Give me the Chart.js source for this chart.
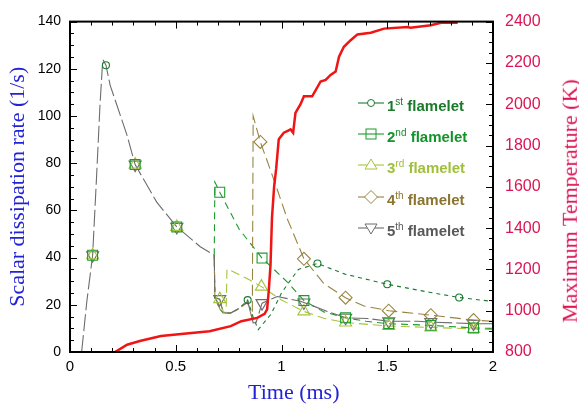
<!DOCTYPE html>
<html>
<head>
<meta charset="utf-8">
<script src="https://cdn.jsdelivr.net/npm/chart.js@4.4.1/dist/chart.umd.min.js"></script>
<style>
  body { margin: 0; background: #fff; }
  #wrap { position: relative; width: 579px; height: 405px; }
  .ttl { position: absolute; font-family: 'Liberation Serif', serif; font-size: 22px; white-space: nowrap; }
  .leg { position: absolute; left: 358px; height: 20px; font-family: 'Liberation Sans', Arial, sans-serif;
         font-size: 15px; font-weight: bold; white-space: nowrap; }
  .leg svg { position: absolute; left: 0; top: 2px; }
  .leg span { position: absolute; left: 29px; top: 0; line-height: 20px; }
  .leg sup { font-size: 10px; line-height: 0; vertical-align: 6px; font-weight: normal; }
</style>
</head>
<body>
<div id="wrap">
  <canvas id="chart" width="579" height="405"></canvas>
  <div class="ttl" style="left:248px; top:379px; color:#2323d6;">Time (ms)</div>
  <div class="ttl" id="rtitle" style="color:#dc1454;">Maximum Temperature (K)</div>
  <div id="legend"></div>
</div>
<script>
// shared rise and first decay (all flamelets)
const tCommon = [0.055, 0.079, 0.107, 0.126, 0.142, 0.155, 0.17, 0.19, 0.269, 0.308, 0.41, 0.505, 0.616, 0.682];
const sCommon = [0, 21, 41, 75, 105, 124, 121.5, 113, 92, 79.4, 63.5, 53, 44.6, 41];

// 1st flamelet
const t1 = [0.685, 0.71, 0.725, 0.76, 0.8, 0.84, 0.865, 0.89, 0.95, 1.0, 1.035, 1.08, 1.17, 1.3, 1.5, 1.7, 1.84, 2.0];
const s1 = [23, 18, 16.5, 16.5, 18.5, 22, 15, 9.5, 16, 25, 29.5, 35, 37.5, 33, 28.7, 25.3, 23.1, 21.4];
const m1t = [0.17, 0.84, 1.17, 1.5, 1.84];
const m1s = [121.5, 22, 37.5, 28.7, 23.1];

// 2nd flamelet
const t2 = [0.685, 0.708, 0.8, 0.908, 1.035, 1.106, 1.2, 1.303, 1.4, 1.507, 1.706, 1.908, 2.0];
const s2 = [72, 67.7, 52, 39.8, 29, 21.8, 17, 14.5, 13, 12, 11.3, 10.2, 10];
const m2t = [0.107, 0.308, 0.505, 0.708, 0.908, 1.106, 1.303, 1.507, 1.706, 1.908];
const m2s = [41, 79.4, 53, 67.7, 39.8, 21.8, 14.5, 12, 11.3, 10.2];

// 3rd flamelet
const t3 = [0.685, 0.708, 0.725, 0.738, 0.742, 0.76, 0.85, 0.905, 1.0, 1.106, 1.2, 1.303, 1.507, 1.706, 1.908, 2.0];
const s3 = [23, 22.4, 17, 16.5, 35, 34.5, 30.5, 27.7, 22, 17.2, 14.3, 12.5, 11, 10.4, 9.8, 9.5];
const m3t = [0.107, 0.308, 0.505, 0.708, 0.905, 1.106, 1.303, 1.507, 1.706, 1.908];
const m3s = [41, 79.4, 53, 22.4, 27.7, 17.2, 12.5, 11, 10.4, 9.8];

// 4th flamelet
const t4 = [0.685, 0.71, 0.725, 0.76, 0.8, 0.84, 0.862, 0.866, 0.9, 0.964, 1.027, 1.106, 1.2, 1.303, 1.39, 1.507, 1.706, 1.908, 2.0];
const s4 = [23, 18, 16.5, 16.5, 18.5, 21, 14, 100, 89, 73, 56.5, 39.5, 29, 23, 19.5, 17.5, 15.6, 13.5, 13];
const m4t = [0.9, 1.106, 1.303, 1.507, 1.706, 1.908];
const m4s = [89, 39.5, 23, 17.5, 15.6, 13.5];

// 5th flamelet
const t5 = [0.685, 0.708, 0.725, 0.76, 0.8, 0.84, 0.862, 0.866, 0.88, 0.908, 0.98, 1.09, 1.106, 1.217, 1.303, 1.406, 1.507, 1.643, 1.706, 1.908, 2.0];
const s5 = [23, 22.4, 16.5, 16.5, 18.5, 21.5, 14, 12.3, 12.5, 20.7, 23.5, 21.5, 21, 17.2, 14.5, 14.2, 13, 13, 12.7, 12, 12];
const m5t = [0.107, 0.308, 0.505, 0.708, 0.908, 1.106, 1.303, 1.507, 1.706, 1.908];
const m5s = [41, 79.4, 53, 22.4, 20.7, 21, 14.5, 13, 12.7, 12];

// maximum temperature
const tTemp = [0.213, 0.27, 0.33, 0.43, 0.55, 0.66, 0.76, 0.81, 0.885, 0.92, 0.932, 0.94, 0.948, 0.955, 0.965, 0.975, 0.987, 1.011, 1.027,
  1.043, 1.055, 1.066, 1.09, 1.106, 1.145, 1.185, 1.209, 1.232, 1.256, 1.272, 1.295, 1.327, 1.359, 1.422, 1.485, 1.596, 1.61, 1.706, 1.754, 1.833];
const maxTemp = [800, 835, 853, 877, 890, 901, 925, 949, 965, 985, 1006, 1100, 1220, 1450, 1600, 1690, 1830, 1862, 1870,
  1878, 1862, 1958, 2000, 2038, 2038, 2110, 2118, 2142, 2158, 2230, 2278, 2310, 2338, 2346, 2366, 2374, 2370, 2382, 2394, 2394];

const legendLabels = [['1', 'st'], ['2', 'nd'], ['3', 'rd'], ['4', 'th'], ['5', 'th']];

const colors = ['#1c7a30', '#1c9a2c', '#a4c440', '#988440', '#6c6c6c'];
const textColors = ['#1a7a2a', '#12942a', '#a0c03c', '#8a7430', '#585858'];
const dashes = [[4, 4], [7, 5], [9, 5], [11, 5], [17, 4]];
const styles = [
  { pointStyle: 'circle', radius: 3.5, rotation: 0 },
  { pointStyle: 'rect', radius: 7, rotation: 0 },
  { pointStyle: 'triangle', radius: 7, rotation: 0 },
  { pointStyle: 'rectRot', radius: 6.5, rotation: 0 },
  { pointStyle: 'triangle', radius: 7, rotation: 180 }
];

const pts = (xs, ys) => xs.map((x, i) => ({ x, y: ys[i] }));
const lines = [[t1, s1], [t2, s2], [t3, s3], [t4, s4], [t5, s5]];
const marks = [[m1t, m1s], [m2t, m2s], [m3t, m3s], [m4t, m4s], [m5t, m5s]];
const commonEnd = tCommon[tCommon.length - 1];

const datasets = [{
  data: pts(tTemp, maxTemp), yAxisID: 'y1', showLine: true, borderColor: '#f01414',
  borderWidth: 2.5, pointRadius: 0, order: 0
}];
lines.forEach(([t, s], i) => {
  datasets.push({
    data: pts(tCommon.concat(t), sCommon.concat(s)), yAxisID: 'y', showLine: true,
    borderColor: colors[i], borderWidth: 1.1, borderDash: dashes[i], pointRadius: 0,
    order: 7 - i,
    // the shared branch is shown by the 5th line only
    segment: i < 4 ? { borderColor: c => c.p1.parsed.x <= commonEnd ? 'rgba(0,0,0,0)' : undefined } : undefined
  });
});
marks.forEach(([t, s], i) => {
  datasets.push({
    data: pts(t, s), yAxisID: 'y', showLine: false,
    pointStyle: styles[i].pointStyle, pointRadius: styles[i].radius, pointRotation: styles[i].rotation,
    pointBorderColor: colors[i], pointBackgroundColor: 'rgba(0,0,0,0)', pointBorderWidth: 1.1, order: 1
  });
});

// frame with inward ticks
const frameTicks = {
  id: 'frameTicks',
  afterDraw(chart) {
    const { ctx, chartArea: a, scales } = chart;
    ctx.save();
    ctx.strokeStyle = '#000';
    ctx.lineWidth = 1;
    const seg = (x1, y1, x2, y2) => { ctx.beginPath(); ctx.moveTo(x1, y1); ctx.lineTo(x2, y2); ctx.stroke(); };
    for (let i = 0; i <= 20; i++) {
      const x = Math.round(scales.x.getPixelForValue(i / 10)) + 0.5, len = i % 5 === 0 ? 7 : 4;
      seg(x, a.bottom, x, a.bottom - len);
      seg(x, a.top, x, a.top + len);
    }
    for (let v = 0; v <= 140; v += 5) {
      const y = Math.round(scales.y.getPixelForValue(v)) + 0.5;
      seg(a.left, y, a.left + (v % 20 === 0 ? 7 : 4), y);
    }
    for (let v = 800; v <= 2400; v += 50) {
      const y = Math.round(scales.y1.getPixelForValue(v)) + 0.5;
      seg(a.right, y, a.right - (v % 200 === 0 ? 7 : 4), y);
    }
    ctx.lineWidth = 2;
    ctx.strokeRect(a.left, a.top, a.right - a.left, a.bottom - a.top);
    ctx.restore();
  }
};

new Chart(document.getElementById('chart'), {
  type: 'scatter',
  data: { datasets },
  options: {
    responsive: false,
    animation: false,
    layout: { padding: { top: 18, left: 0, right: 0, bottom: 0 } },
    plugins: { legend: { display: false }, tooltip: { enabled: false } },
    scales: {
      x: {
        type: 'linear', min: 0, max: 2,
        grid: { display: false, drawTicks: false }, border: { display: false },
        ticks: { stepSize: 0.5, padding: 6, color: '#000', font: { family: 'Liberation Sans', size: 15 },
                 callback: v => String(v) },
        afterFit: s => { s.height = 53; }
      },
      y: {
        position: 'left', min: 0, max: 140,
        grid: { display: false, drawTicks: false }, border: { display: false },
        ticks: { stepSize: 20, padding: 9, color: '#000', font: { family: 'Liberation Sans', size: 14 },
                 callback: v => String(v) },
        title: { display: true, text: 'Scalar dissipation rate (1/s)', color: '#2323d6',
                 font: { family: 'Liberation Serif', size: 22, lineHeight: 1 }, padding: { top: 7, bottom: 0 } },
        afterFit: s => { s.width = 70; }
      },
      y1: {
        position: 'right', min: 800, max: 2400,
        grid: { display: false, drawTicks: false }, border: { display: false },
        ticks: { stepSize: 200, padding: 12, color: '#dc1454', font: { family: 'Liberation Sans', size: 16 },
                 callback: v => String(v) },
        afterFit: s => { s.width = 86; }
      }
    }
  },
  plugins: [frameTicks]
});

// right axis title, reading bottom to top
const rt = document.getElementById('rtitle');
rt.style.left = (570 - rt.offsetWidth / 2) + 'px';
rt.style.top = (201 - rt.offsetHeight / 2) + 'px';
rt.style.transform = 'rotate(-90deg)';

// legend rows
const legend = document.getElementById('legend');
const rowY = [103, 134, 165, 197, 228];
const markSvg = i => {
  const c = colors[i];
  switch (i) {
    case 0: return `<circle cx="13" cy="8" r="3.5" fill="#fff" stroke="${c}"/>`;
    case 1: return `<rect x="8" y="3" width="10" height="10" fill="none" stroke="${c}"/>`;
    case 2: return `<polygon points="13,2 19,12 7,12" fill="#fff" stroke="${c}"/>`;
    case 3: return `<polygon points="13,1.5 19.5,8 13,14.5 6.5,8" fill="#fff" stroke="${c}"/>`;
    default: return `<polygon points="13,14 19,4 7,4" fill="#fff" stroke="${c}"/>`;
  }
};
legendLabels.forEach(([n, sfx], i) => {
  const d = document.createElement('div');
  d.className = 'leg';
  d.style.top = (rowY[i] - 10) + 'px';
  d.innerHTML = `<svg width="26" height="16"><line x1="0" y1="8" x2="26" y2="8" stroke="${colors[i]}" stroke-width="1.1"/>${markSvg(i)}</svg>` +
    `<span style="color:${textColors[i]}; top:3px">${n}<sup>${sfx}</sup> flamelet</span>`;
  legend.appendChild(d);
});
</script>
</body>
</html>
